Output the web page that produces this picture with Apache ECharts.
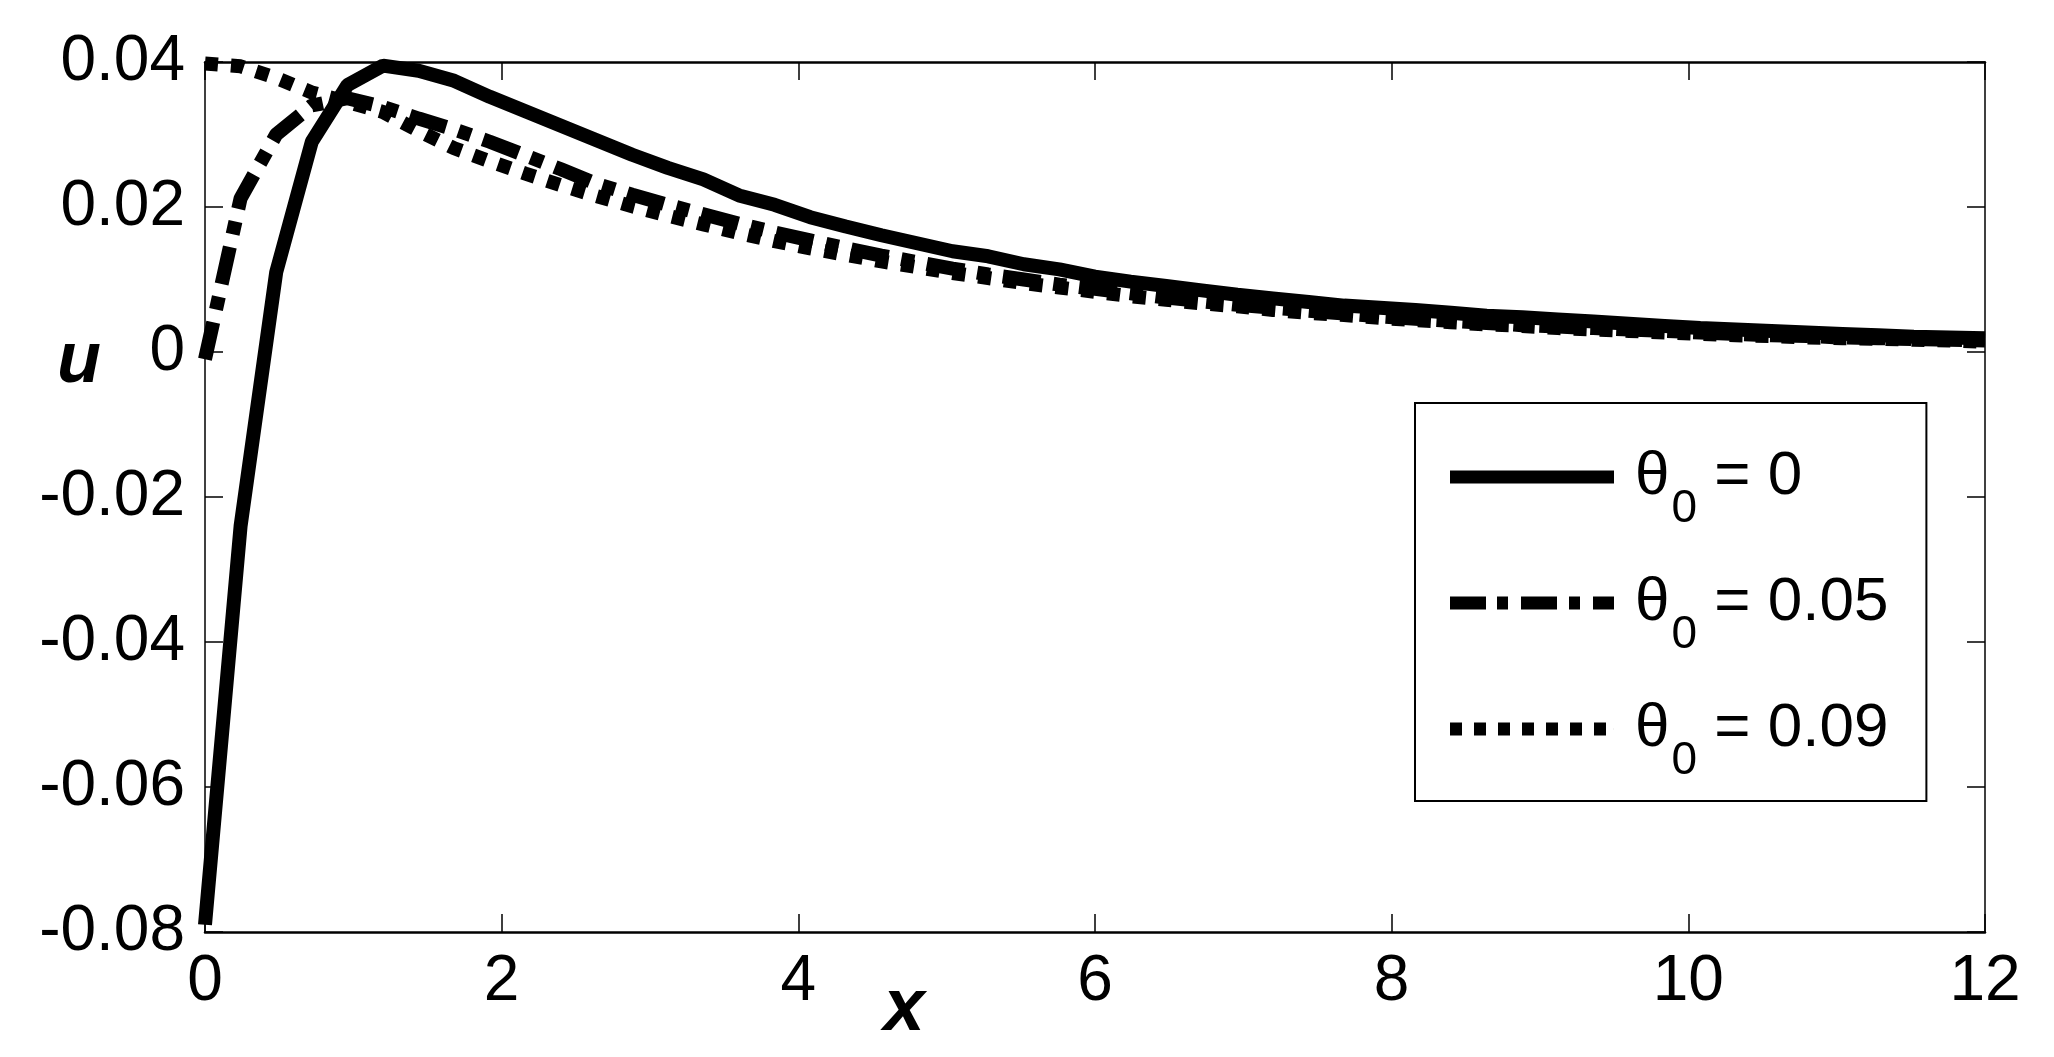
<!DOCTYPE html>
<html>
<head>
<meta charset="utf-8">
<script src="https://cdn.jsdelivr.net/npm/echarts@6/dist/echarts.min.js"></script>
<style>
  html, body { margin: 0; padding: 0; background: #fff; }
  #chart { width: 2054px; height: 1057px; }
</style>
</head>
<body>
<div id="chart"></div>
<script>
  // x grid of the computed profiles
  var xs = [0, 0.24, 0.48, 0.72, 0.96, 1.2, 1.44, 1.68, 1.92, 2.16, 2.4, 2.64, 2.88, 3.12, 3.36, 3.6, 3.84,
    4.08, 4.32, 4.56, 4.8, 5.04, 5.28, 5.52, 5.76, 6.0, 6.24, 6.48, 6.72, 6.96, 7.2, 7.44, 7.68, 7.92,
    8.16, 8.4, 8.64, 8.88, 9.12, 9.36, 9.6, 9.84, 10.08, 10.32, 10.56, 10.8, 11.04, 11.28, 11.52, 11.76, 12.0];

  // theta0 = 0
  var uTheta0 = [-0.079, -0.024, 0.011, 0.029, 0.0368, 0.0395, 0.0388, 0.0374, 0.0352, 0.0332, 0.0312, 0.0292,
    0.0272, 0.0254, 0.0238, 0.0216, 0.0203, 0.0186, 0.0173, 0.0161, 0.0150, 0.0139, 0.0132, 0.0121, 0.0114,
    0.0104, 0.0097, 0.0091, 0.0085, 0.0079, 0.0074, 0.0069, 0.0064, 0.0061, 0.0058, 0.0054, 0.0050, 0.0048,
    0.0045, 0.0042, 0.0039, 0.0036, 0.0033, 0.0031, 0.0029, 0.0027, 0.0025, 0.0023, 0.0021, 0.0020, 0.0019];

  // theta0 = 0.05
  var uTheta005 = [-0.001, 0.0212, 0.0300, 0.0340, 0.0350, 0.0338, 0.0322, 0.0307, 0.0290, 0.0271, 0.0252,
    0.0232, 0.0217, 0.0203, 0.0190, 0.0177, 0.0165, 0.0154, 0.0143, 0.0133, 0.0124, 0.0115, 0.0107, 0.0100,
    0.0093, 0.0087, 0.0081, 0.0075, 0.0070, 0.0065, 0.0061, 0.0057, 0.0053, 0.0049, 0.0046, 0.0043, 0.0040,
    0.0037, 0.0035, 0.0033, 0.0031, 0.0029, 0.0027, 0.0025, 0.0023, 0.0022, 0.0020, 0.0019, 0.0018, 0.0017, 0.0016];

  // theta0 = 0.09
  var uTheta009 = [0.0398, 0.0394, 0.0378, 0.0358, 0.0345, 0.0331, 0.0305, 0.0281, 0.0263, 0.0246, 0.0230,
    0.0215, 0.0201, 0.0188, 0.0176, 0.0164, 0.0153, 0.0143, 0.0134, 0.0125, 0.0117, 0.0109, 0.0102, 0.0095,
    0.0089, 0.0083, 0.0077, 0.0072, 0.0067, 0.0063, 0.0058, 0.0054, 0.0051, 0.0047, 0.0044, 0.0041, 0.0038,
    0.0036, 0.0033, 0.0031, 0.0029, 0.0027, 0.0025, 0.0023, 0.0022, 0.0020, 0.0019, 0.0018, 0.0017, 0.0016, 0.0014];

  var seriesNames = ['t0', 't005', 't009'];
  var legendLabels = { t0: '0', t005: '0.05', t009: '0.09' };

  var font = 'Liberation Sans, Arial, sans-serif';

  // legend icons drawn as filled pieces so that they stay thick like the curves
  var iconDashDot = 'path://M0,0h36v13h-36z M47,0h11v13h-11z M71,0h36v13h-36z M119,0h11v13h-11z M143,0h21v13h-21z';
  var iconDot = 'path://M0,0h12v13h-12z M24,0h12v13h-12z M48,0h12v13h-12z M72,0h12v13h-12z M96,0h12v13h-12z M120,0h12v13h-12z M144,0h12v13h-12z M163.9,6h0.1v1h-0.1z';

  function pairs(ys) {
    var out = [];
    for (var i = 0; i < xs.length; i++) {
      out.push([xs[i], ys[i]]);
    }
    return out;
  }

  var myChart = echarts.init(document.getElementById('chart'), null, { renderer: 'canvas' });

  var tick = { show: true, inside: true, length: 18, lineStyle: { color: '#000', width: 1.5 } };

  var option = {
    animation: false,
    backgroundColor: '#fff',
    grid: {
      left: 205, right: 69, top: 62, bottom: 125,
      containLabel: false, outerBoundsMode: 'none'
    },
    xAxis: [{
      type: 'value', position: 'bottom', min: 0, max: 12, interval: 2,
      axisLine: { show: true, onZero: false, lineStyle: { color: '#000', width: 2.5 } },
      axisTick: tick, splitLine: { show: false },
      axisLabel: { color: '#000', fontSize: 64, fontFamily: font, margin: 18 }
    }, {
      type: 'value', position: 'top', min: 0, max: 12, interval: 2,
      axisLine: { show: true, onZero: false, lineStyle: { color: '#000', width: 2.5 } },
      axisTick: tick, splitLine: { show: false },
      axisLabel: { show: false }
    }],
    yAxis: [{
      type: 'value', position: 'left', min: -0.08, max: 0.04, interval: 0.02,
      axisLine: { show: true, onZero: false, lineStyle: { color: '#000', width: 1.5 } },
      axisTick: tick, splitLine: { show: false },
      axisLabel: {
        color: '#000', fontSize: 64, fontFamily: font, margin: 20,
        formatter: function (v) { return String(Number(v.toFixed(2))); }
      }
    }, {
      type: 'value', position: 'right', min: -0.08, max: 0.04, interval: 0.02,
      axisLine: { show: true, onZero: false, lineStyle: { color: '#000', width: 1.5 } },
      axisTick: tick, splitLine: { show: false },
      axisLabel: { show: false }
    }],
    legend: {
      orient: 'vertical',
      left: 1415, top: 403,
      padding: [19, 38, 17, 35],
      itemWidth: 164, itemHeight: 13, itemGap: 16,
      backgroundColor: '#fff',
      borderColor: '#000', borderWidth: 2,
      selectedMode: false,
      itemStyle: { color: '#000', borderWidth: 0 },
      data: [
        { name: 't0', icon: 'rect' },
        { name: 't005', icon: iconDashDot },
        { name: 't009', icon: iconDot }
      ],
      formatter: function (name) {
        return '{m|\u03b8}{s|0}{m| = ' + legendLabels[name] + '}';
      },
      textStyle: {
        color: '#000', fontFamily: font, padding: [0, 0, 0, 16],
        rich: {
          m: { fontSize: 62, fontFamily: font, color: '#000', lineHeight: 60 },
          s: { fontSize: 46, fontFamily: font, color: '#000', lineHeight: 46, padding: [64, 0, 0, 2] }
        }
      }
    },
    graphic: [{
      type: 'text', x: 79, y: 362,
      style: { text: 'u', font: 'italic bold 72px ' + font, fill: '#000',
        textAlign: 'center', textVerticalAlign: 'middle', align: 'center', verticalAlign: 'middle' }
    }, {
      type: 'text', x: 904, y: 1010,
      style: { text: 'x', font: 'italic bold 74px ' + font, fill: '#000',
        textAlign: 'center', textVerticalAlign: 'middle', align: 'center', verticalAlign: 'middle' }
    }],
    series: [{
      name: 't0', type: 'line', data: pairs(uTheta0),
      symbol: 'none', showSymbol: false, z: 3,
      color: '#000',
      lineStyle: { color: '#000', width: 14, type: 'solid' }
    }, {
      name: 't005', type: 'line', data: pairs(uTheta005),
      symbol: 'none', showSymbol: false, z: 2,
      color: '#000',
      lineStyle: { color: '#000', width: 14, type: [38, 13, 13, 13], cap: 'butt' }
    }, {
      name: 't009', type: 'line', data: pairs(uTheta009),
      symbol: 'none', showSymbol: false, z: 2,
      color: '#000',
      lineStyle: { color: '#000', width: 14, type: [13, 13], cap: 'butt' }
    }]
  };

  myChart.setOption(option);
</script>
</body>
</html>
